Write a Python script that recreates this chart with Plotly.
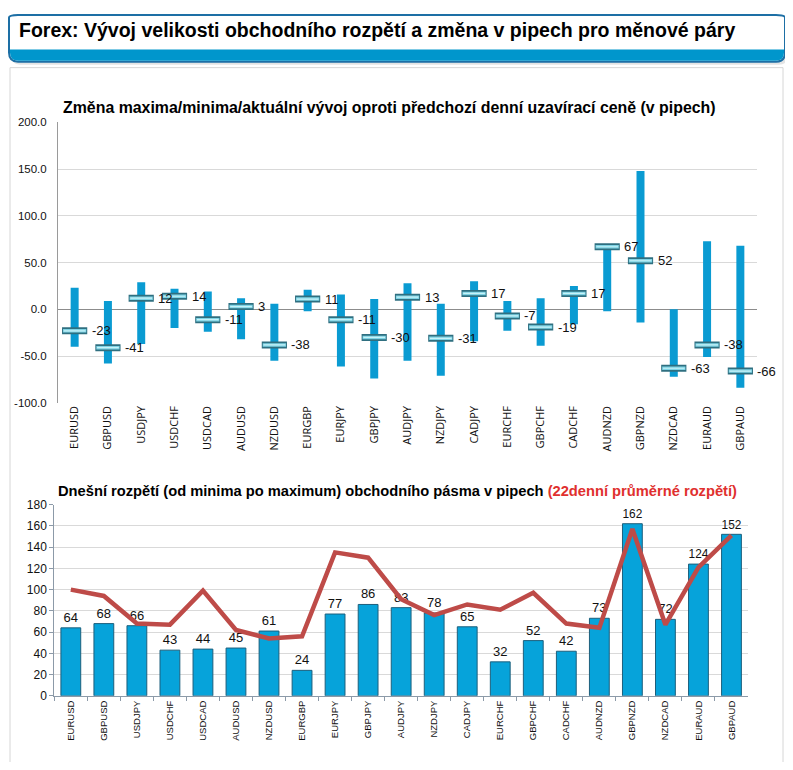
import plotly.graph_objects as go

# the page body adds an 8px margin, so the figure is sized to fill the rest of the window
W, H = 777, 754
OFF = 8

pairs = ["EURUSD", "GBPUSD", "USDJPY", "USDCHF", "USDCAD", "AUDUSD", "NZDUSD", "EURGBP",
         "EURJPY", "GBPJPY", "AUDJPY", "NZDJPY", "CADJPY", "EURCHF", "GBPCHF", "CADCHF",
         "AUDNZD", "GBPNZD", "NZDCAD", "EURAUD", "GBPAUD"]

# top chart: change vs previous daily close (pips)
day_high = [23, 9, 29, 22, 19, 12, 6, 21, 16, 11, 28, 6, 30, 9, 12, 25, 68, 148, 0, 73, 68]
day_low = [-40, -58, -37, -20, -24, -32, -55, -2, -61, -74, -55, -71, -34, -23, -39, -16, -2, -14, -72, -51, -84]
current = [-23, -41, 12, 14, -11, 3, -38, 11, -11, -30, 13, -31, 17, -7, -19, 17, 67, 52, -63, -38, -66]

# bottom chart: today's range and 22-day average range (pips)
today_range = [64, 68, 66, 43, 44, 45, 61, 24, 77, 86, 83, 78, 65, 32, 52, 42, 73, 162, 72, 124, 152]
avg22_range = [100, 94, 68, 67, 99, 62, 54, 56, 135, 130, 91, 76, 86, 81, 97, 68, 64, 157, 67, 121, 151]

top_yticks = [-100, -50, 0, 50, 100, 150, 200]
bot_yticks = [0, 20, 40, 60, 80, 100, 120, 140, 160, 180]


def X(px):
    return (px - OFF) / W


def Y(py):
    p = (py - 7.6) / 0.98
    return min(1.0, 1 - (p - OFF) / H)


def rpath(x0, y0, x1, y1, r, top=True, bottom=True):
    rt = r if top else 0
    rb = r if bottom else 0
    p = f"M {X(x0 + rt)},{Y(y0)} L {X(x1 - rt)},{Y(y0)} "
    if rt:
        p += f"Q {X(x1)},{Y(y0)} {X(x1)},{Y(y0 + rt)} "
    p += f"L {X(x1)},{Y(y1 - rb)} "
    if rb:
        p += f"Q {X(x1)},{Y(y1)} {X(x1 - rb)},{Y(y1)} "
    p += f"L {X(x0 + rb)},{Y(y1)} "
    if rb:
        p += f"Q {X(x0)},{Y(y1)} {X(x0)},{Y(y1 - rb)} "
    p += f"L {X(x0)},{Y(y0 + rt)} "
    if rt:
        p += f"Q {X(x0)},{Y(y0)} {X(x0 + rt)},{Y(y0)} "
    return p + "Z"


FONT = "Liberation Sans, Arial, sans-serif"
BLUE = "#0A9BD2"

fig = go.Figure()

# ---- top chart: high/low ranges ----
fig.add_trace(go.Bar(
    x=pairs, y=[h - l for h, l in zip(day_high, day_low)], base=day_low,
    width=0.24, marker=dict(color=BLUE, line=dict(width=0)),
    xaxis="x", yaxis="y", hoverinfo="skip"))
# current value caps
fig.add_trace(go.Scatter(
    x=pairs, y=current, mode="markers",
    marker=dict(symbol="line-ew", size=18, line=dict(width=7, color="#2F6F80")),
    xaxis="x", yaxis="y", hoverinfo="skip"))
fig.add_trace(go.Scatter(
    x=pairs, y=current, mode="markers",
    marker=dict(symbol="line-ew", size=16.6, line=dict(width=3.5, color="#7ED3E4")),
    xaxis="x", yaxis="y", hoverinfo="skip"))
fig.add_trace(go.Scatter(
    x=pairs, y=current, mode="markers",
    marker=dict(symbol="line-ew", size=15.5, line=dict(width=1.2, color="#C8F2F8")),
    xaxis="x", yaxis="y", hoverinfo="skip"))

# ---- bottom chart ----
fig.add_trace(go.Bar(
    x=pairs, y=today_range, width=0.6,
    marker=dict(color="#06A3DA", line=dict(width=1, color="#1D5F7C")),
    text=[str(v) for v in today_range], textposition="outside",
    textfont=dict(size=13, color="#111", family=FONT),
    cliponaxis=False, xaxis="x2", yaxis="y2", hoverinfo="skip"))
fig.add_trace(go.Scatter(
    x=pairs, y=avg22_range, mode="lines",
    line=dict(color="#BE4B48", width=4.5),
    xaxis="x2", yaxis="y2", hoverinfo="skip"))

annotations = []
for p, v in zip(pairs, current):
    annotations.append(dict(x=p, y=v, xref="x", yref="y", text=str(v), showarrow=False,
                            xanchor="left", yanchor="middle", xshift=15,
                            font=dict(size=13, color="#111", family=FONT)))

annotations.append(dict(x=X(17), y=Y(30), xref="paper", yref="paper", xanchor="left", yanchor="middle",
                        text="<b>Forex: Vývoj velikosti obchodního rozpětí a změna v pipech pro měnové páry</b>",
                        showarrow=False, font=dict(size=19.5, color="#000", family=FONT)))
annotations.append(dict(x=X(61), y=Y(108), xref="paper", yref="paper", xanchor="left", yanchor="middle",
                        text="<b>Změna maxima/minima/aktuální vývoj oproti předchozí denní uzavírací ceně (v pipech)</b>",
                        showarrow=False, font=dict(size=15.9, color="#000", family=FONT)))
annotations.append(dict(x=X(56), y=Y(491), xref="paper", yref="paper", xanchor="left", yanchor="middle",
                        text="<b>Dnešní rozpětí (od minima po maximum) obchodního pásma v pipech "
                             "<span style='color:#E0302E'>(22denní průměrné rozpětí)</span></b>",
                        showarrow=False, font=dict(size=14.7, color="#000", family=FONT)))

shapes = [
    # panel frame
    dict(type="rect", xref="paper", yref="paper", x0=X(10), x1=X(783), y0=Y(790), y1=Y(68),
         line=dict(color="#D6D6D6", width=1), fillcolor="rgba(0,0,0,0)", layer="below"),
    # header box shadow
    dict(type="path", xref="paper", yref="paper", path=rpath(11, 10, 788, 65, 9),
         fillcolor="#E4E4E4", line=dict(width=0), layer="below"),
    # header box
    dict(type="path", xref="paper", yref="paper", path=rpath(9, 9, 785, 62, 9),
         fillcolor="#FFFFFF", line=dict(color="#1D6FA5", width=2), layer="below"),
    # header band
    dict(type="path", xref="paper", yref="paper", path=rpath(10, 50, 784, 61, 8, top=False),
         fillcolor="#0096CC", line=dict(width=0), layer="below"),
]

fig.update_layout(
    width=W, height=H, margin=dict(l=0, r=0, t=0, b=0),
    paper_bgcolor="white", plot_bgcolor="white",
    showlegend=False, barmode="overlay",
    font=dict(family=FONT, color="#111"),
    annotations=annotations, shapes=shapes,
    xaxis=dict(domain=[X(58), X(757)], anchor="y", type="category",
               range=[-0.5, len(pairs) - 0.5], tickangle=-90,
               tickfont=dict(size=11, family="Open Sans, Liberation Sans, sans-serif", color="#111"),
               showgrid=False, showline=False, ticks="", zeroline=False),
    yaxis=dict(domain=[Y(402.7), Y(122.7)], anchor="x", range=[-100, 200],
               tickvals=top_yticks, ticktext=[f"{v:.1f}" for v in top_yticks],
               tickfont=dict(size=11.5, color="#111"), ticklabelstandoff=8,
               showgrid=True, gridcolor="#D9D9D9", gridwidth=1,
               zeroline=True, zerolinecolor="#8C8C8C", zerolinewidth=1,
               showline=True, linecolor="#9A9A9A", linewidth=1, ticks=""),
    xaxis2=dict(domain=[X(54.3), X(748)], anchor="y2", type="category",
                range=[-0.5, len(pairs) - 0.5], tickangle=-90,
                tickfont=dict(size=9.5, color="#111"),
                showgrid=False, showline=True, linecolor="#8C9AA8", linewidth=1,
                ticks="outside", ticklen=4, tickcolor="#8C9AA8", tickson="boundaries",
                zeroline=False),
    yaxis2=dict(domain=[Y(695.3), Y(504.3)], anchor="x2", range=[0, 180],
                tickvals=bot_yticks, tickfont=dict(size=12, color="#111"),
                showgrid=True, gridcolor="#D9D9D9", gridwidth=1, zeroline=False,
                showline=True, linecolor="#8C9AA8", linewidth=1,
                ticks="outside", ticklen=4, tickcolor="#8C9AA8"),
)

fig.write_html("out.html")
